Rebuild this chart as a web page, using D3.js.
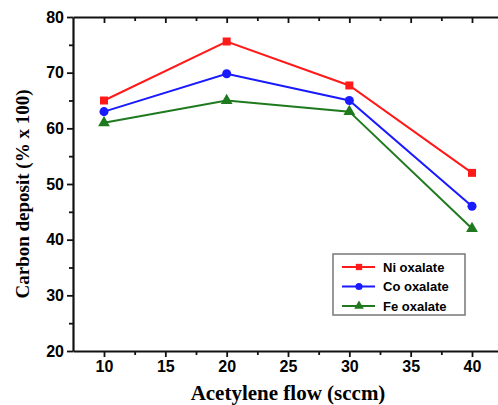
<!DOCTYPE html>
<html>
<head>
<meta charset="utf-8">
<script src="https://cdn.jsdelivr.net/npm/d3@7"></script>
<style>
  html, body { margin: 0; padding: 0; background: #fff; }
  svg { display: block; }
</style>
</head>
<body>
<svg id="chart"></svg>
<script>
// Chart data
const flows = [10, 20, 30, 40];
const niOxalate = [65, 75.6, 67.7, 52];
const coOxalate = [63, 69.8, 65, 46];
const feOxalate = [61, 65, 63, 42];
const xTicks = [10, 15, 20, 25, 30, 35, 40];
const yTicks = [20, 30, 40, 50, 60, 70, 80];

const series = [
  { name: "Ni oxalate", values: niOxalate, color: "#ff1a1a", symbol: d3.symbolSquare },
  { name: "Co oxalate", values: coOxalate, color: "#1a1aff", symbol: d3.symbolCircle },
  { name: "Fe oxalate", values: feOxalate, color: "#1f7a1f", symbol: d3.symbolTriangle }
];

const width = 498, height = 405;
const svg = d3.select("#chart").attr("width", width).attr("height", height);

// Plot frame (right edge runs off the picture)
const plotLeft = 73, plotRight = 510, plotTop = 17, plotBottom = 351;

// 10 sits at 104px and 40 at 472px
const x = d3.scaleLinear()
  .domain([10 - (104 - plotLeft) * 30 / 368, 10 + (plotRight - 104) * 30 / 368])
  .range([plotLeft, plotRight]);
const y = d3.scaleLinear().domain([20, 80]).range([plotBottom, plotTop]);

const minorX = d3.range(12.5, 41, 5);
const minorY = d3.range(25, 80, 10);

const tickFont = sel => sel.selectAll(".tick text")
  .style("font-family", "Liberation Sans, Arial, sans-serif")
  .style("font-weight", "bold")
  .style("font-size", "16px");

// Bottom axis
svg.append("g")
  .attr("transform", `translate(0,${plotBottom})`)
  .call(d3.axisBottom(x).tickValues(xTicks).tickSize(6).tickSizeOuter(0).tickPadding(4))
  .call(tickFont);

svg.append("g")
  .attr("transform", `translate(0,${plotBottom})`)
  .call(d3.axisBottom(x).tickValues(minorX).tickSize(4).tickSizeOuter(0).tickFormat(""))
  .select(".domain").remove();

// Top frame line with inward ticks
svg.append("g")
  .attr("transform", `translate(0,${plotTop})`)
  .call(d3.axisBottom(x).tickValues(xTicks).tickSize(6).tickSizeOuter(0).tickFormat(""));
svg.append("g")
  .attr("transform", `translate(0,${plotTop})`)
  .call(d3.axisBottom(x).tickValues(minorX).tickSize(4).tickSizeOuter(0).tickFormat(""))
  .select(".domain").remove();

// Left axis
svg.append("g")
  .attr("transform", `translate(${plotLeft},0)`)
  .call(d3.axisLeft(y).tickValues(yTicks).tickSize(6).tickSizeOuter(0).tickPadding(3))
  .call(tickFont);

svg.append("g")
  .attr("transform", `translate(${plotLeft},0)`)
  .call(d3.axisLeft(y).tickValues(minorY).tickSize(4).tickSizeOuter(0).tickFormat(""))
  .select(".domain").remove();

svg.selectAll(".domain").style("stroke", "#111").style("stroke-width", 2.2);
svg.selectAll(".tick line").style("stroke", "#111").style("stroke-width", 1.8);

// Lines and markers
const line = d3.line()
  .x((d, i) => x(flows[i]))
  .y(d => y(d));

series.forEach(s => {
  svg.append("path")
    .datum(s.values)
    .attr("d", line)
    .attr("fill", "none")
    .attr("stroke", s.color)
    .attr("stroke-width", 2);

  svg.selectAll(null)
    .data(s.values)
    .enter()
    .append("path")
    .attr("transform", (d, i) => `translate(${x(flows[i])},${y(d)})`)
    .attr("d", d3.symbol().type(s.symbol).size(s.symbol === d3.symbolTriangle ? 60 : 64))
    .attr("fill", s.color);
});

// Legend
const legend = svg.append("g").attr("transform", "translate(333,254)");
legend.append("rect")
  .attr("width", 132)
  .attr("height", 61)
  .attr("fill", "#fff")
  .attr("stroke", "#777")
  .attr("stroke-width", 1.5);

series.forEach((s, i) => {
  const row = legend.append("g").attr("transform", `translate(0,${13 + i * 19.5})`);
  row.append("line")
    .attr("x1", 9).attr("x2", 42)
    .attr("stroke", s.color).attr("stroke-width", 2);
  row.append("path")
    .attr("transform", "translate(26,0)")
    .attr("d", d3.symbol().type(s.symbol).size(40))
    .attr("fill", s.color);
  row.append("text")
    .attr("x", 50)
    .attr("dy", "0.35em")
    .style("font-family", "Liberation Sans, Arial, sans-serif")
    .style("font-weight", "bold")
    .style("font-size", "13px")
    .text(s.name);
});

// Axis titles
svg.append("text")
  .attr("text-anchor", "middle")
  .attr("x", 288)
  .attr("y", 400)
  .style("font-family", "Liberation Serif, Times New Roman, serif")
  .style("font-weight", "bold")
  .style("font-size", "21px")
  .text("Acetylene flow (sccm)");

svg.append("text")
  .attr("text-anchor", "middle")
  .attr("transform", "translate(29,194) rotate(-90)")
  .style("font-family", "Liberation Serif, Times New Roman, serif")
  .style("font-weight", "bold")
  .style("font-size", "19px")
  .text("Carbon deposit (% x 100)");
</script>
</body>
</html>
